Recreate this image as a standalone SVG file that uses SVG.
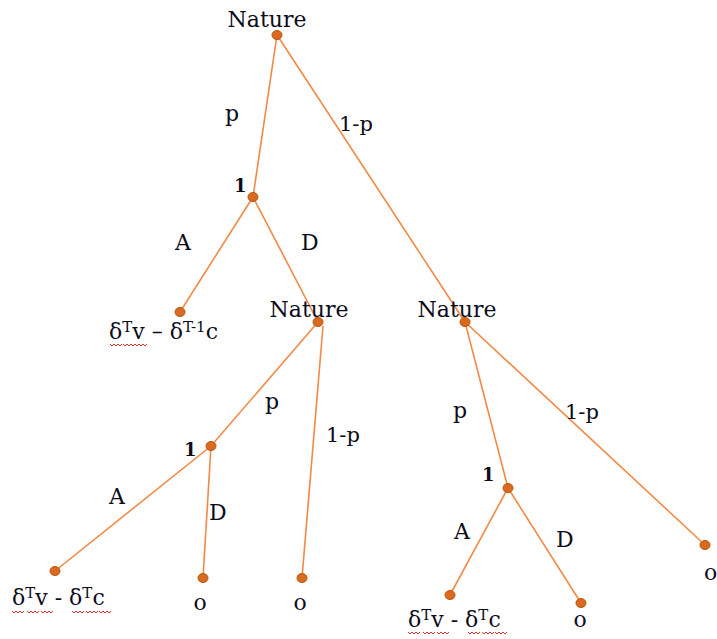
<svg xmlns="http://www.w3.org/2000/svg" width="717" height="639" viewBox="0 0 717 639">
<style>
text{font-family:"DejaVu Serif","Liberation Serif",serif;font-size:22px;fill:#0c0c1a}
.sm{font-size:21px}
.one{font-size:18px;font-weight:bold}
.sup{font-size:15px}
.edge{stroke:#f28a45;stroke-width:1.6;fill:none}
.dot{fill:#d96a1f;stroke:#b8560f;stroke-width:1}
.wave{stroke:#e03030;stroke-width:1;fill:none}
</style>
<defs>
<path id="w" d="M0,0 l2,2 l2,-2 l2,2 l2,-2 l2,2 l2,-2" class="wave"/>
</defs>
<rect width="717" height="639" fill="#fff"/>
<g id="connectors">
<line class="edge" x1="277" y1="35" x2="253" y2="197"/>
<line class="edge" x1="277" y1="35" x2="465" y2="322"/>
<line class="edge" x1="253" y1="197" x2="180" y2="312"/>
<line class="edge" x1="253" y1="197" x2="318" y2="322"/>
<line class="edge" x1="318" y1="322" x2="211" y2="446"/>
<line class="edge" x1="323" y1="326" x2="302" y2="578"/>
<line class="edge" x1="211" y1="446" x2="55" y2="571"/>
<line class="edge" x1="211" y1="446" x2="203" y2="578"/>
<line class="edge" x1="465" y1="322" x2="508" y2="488"/>
<line class="edge" x1="465" y1="322" x2="705" y2="545"/>
<line class="edge" x1="508" y1="488" x2="450" y2="595"/>
<line class="edge" x1="508" y1="488" x2="581" y2="603"/>
</g>
<g id="labels">
<text x="225" y="121">p</text>
<text x="339" y="131" class="sm">1-p</text>
<text x="175" y="250">A</text>
<text x="301" y="250">D</text>
<text x="265" y="409">p</text>
<text x="326" y="442" class="sm">1-p</text>
<text x="109" y="504">A</text>
<text x="209" y="520">D</text>
<text x="453" y="418">p</text>
<text x="565" y="419" class="sm">1-p</text>
<text x="454" y="539">A</text>
<text x="556" y="547">D</text>
</g>
<g id="n-nature-top">
<text x="267" y="27" text-anchor="middle">Nature</text>
<ellipse class="dot" cx="277" cy="35" rx="5" ry="4.5"/>
</g>
<g id="n-p1">
<text x="234" y="192" class="one">1</text>
<ellipse class="dot" cx="253" cy="197" rx="5" ry="4.5"/>
</g>
<g id="n-leaf1">
<ellipse class="dot" cx="180" cy="312" rx="5" ry="4.5"/>
<text x="109" y="339">δ<tspan class="sup" dy="-7">T</tspan><tspan dy="7">v – δ</tspan><tspan class="sup" dy="-7">T-1</tspan><tspan dy="7">c</tspan></text>
<use href="#w" x="110" y="344"/><use href="#w" x="123" y="344"/><use href="#w" x="135" y="344"/>
</g>
<g id="n-nature-mid">
<text x="309" y="317" text-anchor="middle">Nature</text>
<ellipse class="dot" cx="318" cy="322" rx="5" ry="4.5"/>
</g>
<g id="n-p2">
<text x="184" y="456" class="one">1</text>
<ellipse class="dot" cx="211" cy="446" rx="5" ry="4.5"/>
</g>
<g id="n-leaf2">
<ellipse class="dot" cx="55" cy="571" rx="5" ry="4.5"/>
<text x="12" y="605">δ<tspan class="sup" dy="-7">T</tspan><tspan dy="7">v - δ</tspan><tspan class="sup" dy="-7">T</tspan><tspan dy="7">c</tspan></text>
<use href="#w" x="12" y="611"/><use href="#w" x="27" y="611"/><use href="#w" x="41" y="611"/><use href="#w" x="72" y="611"/><use href="#w" x="86" y="611"/><use href="#w" x="99" y="611"/>
</g>
<g id="n-leaf3">
<ellipse class="dot" cx="203" cy="578" rx="5" ry="4.5"/>
<text x="200" y="610" text-anchor="middle">o</text>
</g>
<g id="n-leaf4">
<ellipse class="dot" cx="302" cy="578" rx="5" ry="4.5"/>
<text x="300" y="610" text-anchor="middle">o</text>
</g>
<g id="n-nature-right">
<text x="457" y="317" text-anchor="middle">Nature</text>
<ellipse class="dot" cx="465" cy="322" rx="5" ry="4.5"/>
</g>
<g id="n-p3">
<text x="482" y="481" class="one">1</text>
<ellipse class="dot" cx="508" cy="488" rx="5" ry="4.5"/>
</g>
<g id="n-leaf5">
<ellipse class="dot" cx="450" cy="595" rx="5" ry="4.5"/>
<text x="408" y="627">δ<tspan class="sup" dy="-7">T</tspan><tspan dy="7">v - δ</tspan><tspan class="sup" dy="-7">T</tspan><tspan dy="7">c</tspan></text>
<use href="#w" x="408" y="632"/><use href="#w" x="423" y="632"/><use href="#w" x="437" y="632"/><use href="#w" x="468" y="632"/><use href="#w" x="482" y="632"/><use href="#w" x="495" y="632"/>
</g>
<g id="n-leaf6">
<ellipse class="dot" cx="581" cy="603" rx="5" ry="4.5"/>
<text x="580" y="627" text-anchor="middle">o</text>
</g>
<g id="n-leaf7">
<ellipse class="dot" cx="705" cy="545" rx="5" ry="4.5"/>
<text x="704" y="580">o</text>
</g>
</svg>
